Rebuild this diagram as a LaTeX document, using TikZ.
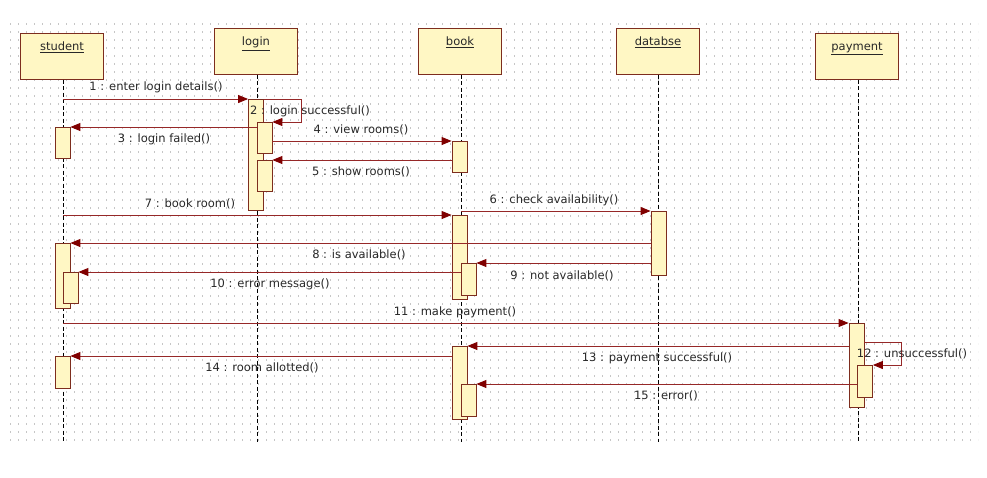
\documentclass[tikz,border=0pt]{standalone}
\usepackage{fontspec}
\setmainfont{DejaVu Sans}
\usetikzlibrary{arrows.meta}
\definecolor{boxfill}{RGB}{255,247,196}
\definecolor{boxline}{RGB}{125,45,30}
\definecolor{msgline}{RGB}{150,40,40}
\definecolor{tipcol}{RGB}{128,0,0}
\definecolor{griddot}{RGB}{198,198,198}
\definecolor{txtcol}{RGB}{40,40,40}
\begin{document}
\begin{tikzpicture}[x=1pt,y=-1pt,
  lifebox/.style={draw=boxline, fill=boxfill, line width=1pt, minimum width=83pt, minimum height=46pt, inner sep=0pt},
  headtxt/.style={text=txtcol, font=\fontsize{11.5}{13}\selectfont, inner sep=0pt, anchor=north},
  act/.style={draw=boxline, fill=boxfill, line width=0.8pt, minimum width=15pt, inner sep=0pt, anchor=north},
  lifeline/.style={draw=black, line width=1pt, dash pattern=on 4pt off 2.5pt},
  msg/.style={draw=msgline, line width=0.9pt, -{Triangle[length=10pt,width=8pt,color=tipcol]}},
  lbl/.style={text=txtcol, font=\fontsize{11.5}{13}\selectfont, inner sep=0pt}
]
\useasboundingbox[fill=white] (0,0) rectangle (987,477);
% dotted grid background
\foreach \yy in {24,32,...,440}
  \draw[griddot, line width=1.2pt, dash pattern=on 1.2pt off 6.8pt] (10,\yy) -- (978,\yy);

% lifeline heads
\node[lifebox] (st) at (62,56) {};
\node[lifebox] (lg) at (256,51) {};
\node[lifebox] (bk) at (460,51) {};
\node[lifebox] (db) at (658,51) {};
\node[lifebox] (py) at (857,56) {};
\node[headtxt] (stt) at ([yshift=-9.5pt]st.north) {\underline{student}};
\node[headtxt] (lgt) at ([yshift=-9.5pt]lg.north) {\underline{login}};
\node[headtxt] (bkt) at ([yshift=-9.5pt]bk.north) {\underline{book}};
\node[headtxt] (dbt) at ([yshift=-9.5pt]db.north) {\underline{databse}};
\node[headtxt] (pyt) at ([yshift=-9.5pt]py.north) {\underline{payment}};

% lifeline ends
\coordinate (ste) at (63,442);
\coordinate (lge) at (257,442);
\coordinate (bke) at (461,442);
\coordinate (dbe) at (658,442);
\coordinate (pye) at (858,442);
\draw[lifeline] (st.south -| ste) -- (ste);
\draw[lifeline] (lg.south -| lge) -- (lge);
\draw[lifeline] (bk.south -| bke) -- (bke);
\draw[lifeline] (db.south -| dbe) -- (dbe);
\draw[lifeline] (py.south -| pye) -- (pye);

% activations
\node[act, minimum height=31pt] (sa1) at (62.5,127) {};
\node[act, minimum height=65pt] (sa2) at (62.5,243) {};
\node[act, minimum height=31pt] (sa3) at (70.5,272) {};
\node[act, minimum height=32pt] (sa4) at (62.5,356) {};
\node[act, minimum height=111pt] (la1) at (256,99) {};
\node[act, minimum height=31pt] (la2) at (264.5,122) {};
\node[act, minimum height=31pt] (la3) at (264.5,160) {};
\node[act, minimum height=31pt] (ba1) at (459.5,141) {};
\node[act, minimum height=84pt] (ba2) at (459.5,215) {};
\node[act, minimum height=32pt] (ba3) at (468.5,263) {};
\node[act, minimum height=73pt] (ba4) at (459.5,346) {};
\node[act, minimum height=32pt] (ba5) at (468.5,384) {};
\node[act, minimum height=64pt] (da1) at (658.5,211) {};
\node[act, minimum height=84pt] (pa1) at (856.5,323) {};
\node[act, minimum height=32pt] (pa2) at (865,365) {};

% messages
\coordinate (m1) at (63,99);
\coordinate (m2) at (301,99);
\coordinate (m6) at (461,211);
\coordinate (m7) at (63,215);
\coordinate (m11) at (63,323);
\coordinate (m12) at (901,342);
\draw[msg] (m1) -- (la1.north west);
\draw[msg] (la1.north east) -- (m2) |- (la2.north east);
\draw[msg] (la2.west |- sa1.north) -- (sa1.north east);
\draw[msg] (la2.east |- ba1.north) -- (ba1.north west);
\draw[msg] (ba1.west |- la3.north) -- (la3.north east);
\draw[msg] (m6) -- (da1.north west);
\draw[msg] (m7) -- (ba2.north west);
\draw[msg] (da1.west |- sa2.north) -- (sa2.north east);
\draw[msg] (da1.west |- ba3.north) -- (ba3.north east);
\draw[msg] (ba3.west |- sa3.north) -- (sa3.north east);
\draw[msg] (m11) -- (pa1.north west);
\draw[msg] (pa1.east |- m12) -- (m12) |- (pa2.north east);
\draw[msg] (pa1.west |- ba4.north) -- (ba4.north east);
\draw[msg] (ba4.west |- sa4.north) -- (sa4.north east);
\draw[msg] (pa2.west |- ba5.north) -- (ba5.north east);

% labels
\node[lbl] (l1) at (156,87) {1 : enter login details()};
\node[lbl] (l2) at (310,111) {2 : login successful()};
\node[lbl] (l3) at (164,139) {3 : login failed()};
\node[lbl] (l4) at (361,130) {4 : view rooms()};
\node[lbl] (l5) at (361,172) {5 : show rooms()};
\node[lbl] (l6) at (554,200) {6 : check availability()};
\node[lbl] (l7) at (190,204) {7 : book room()};
\node[lbl] (l8) at (359,255) {8 : is available()};
\node[lbl] (l9) at (562,276) {9 : not available()};
\node[lbl] (l10) at (270,284) {10 : error message()};
\node[lbl] (l11) at (455,312) {11 : make payment()};
\node[lbl] (l12) at (912,354) {12 : unsuccessful()};
\node[lbl] (l13) at (657,358) {13 : payment successful()};
\node[lbl] (l14) at (262,368) {14 : room allotted()};
\node[lbl] (l15) at (666,396) {15 : error()};
\end{tikzpicture}
\end{document}
